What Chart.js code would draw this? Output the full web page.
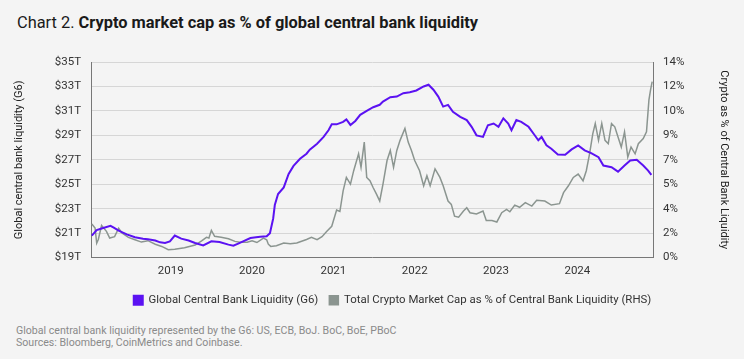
<!DOCTYPE html>
<html>
<head>
<meta charset="utf-8">
<script src="https://cdn.jsdelivr.net/npm/chart.js@4/dist/chart.umd.min.js"></script>
<style>
  html, body { margin: 0; padding: 0; background: #f4f4f4; }
  body { width: 744px; height: 359px; position: relative; overflow: hidden; font-family: Roboto, sans-serif; }
  #title { position: absolute; left: 17px; top: 14px; font-size: 16.4px; line-height: 18px; color: #1a1a1a; white-space: nowrap; }
  #title b { font-weight: 700; }
  #note { position: absolute; left: 16px; top: 325px; font-size: 10.6px; line-height: 12px; color: #8a8a8a; }
  #wrap { position: absolute; left: 0; top: 0; width: 744px; height: 316px; }
</style>
</head>
<body>
<div id="title">Chart 2. <b>Crypto market cap as % of global central bank liquidity</b></div>
<div id="wrap"><canvas id="canvas"></canvas></div>
<div id="note">Global central bank liquidity represented by the G6: US, ECB, BoJ. BoC, BoE, PBoC<br>Sources: Bloomberg, CoinMetrics and Coinbase.</div>
<script>
  'use strict'

  // x values are decimal years
  var liqYears = [2018.03, 2018.09, 2018.16, 2018.26, 2018.30, 2018.36, 2018.46, 2018.56, 2018.66, 2018.72,
    2018.81, 2018.87, 2018.93, 2018.99, 2019.05, 2019.13, 2019.22, 2019.30, 2019.40, 2019.50,
    2019.60, 2019.71, 2019.77, 2019.83, 2019.89, 2019.98, 2020.05, 2020.10, 2020.18, 2020.22,
    2020.26, 2020.28, 2020.32, 2020.39, 2020.45, 2020.51, 2020.59, 2020.67, 2020.71, 2020.80,
    2020.88, 2020.94, 2020.98, 2021.04, 2021.12, 2021.16, 2021.21, 2021.27, 2021.33, 2021.41,
    2021.49, 2021.57, 2021.61, 2021.70, 2021.78, 2021.86, 2021.94, 2022.02, 2022.11, 2022.17,
    2022.23, 2022.29, 2022.35, 2022.41, 2022.47, 2022.56, 2022.64, 2022.70, 2022.76, 2022.84,
    2022.90, 2022.97, 2023.03, 2023.09, 2023.15, 2023.19, 2023.25, 2023.31, 2023.40, 2023.46,
    2023.52, 2023.56, 2023.62, 2023.68, 2023.76, 2023.85, 2023.93, 2024.01, 2024.09, 2024.17,
    2024.26, 2024.32, 2024.42, 2024.50, 2024.58, 2024.65, 2024.73, 2024.81, 2024.87, 2024.91]
  var liqValues = [20.8, 21.25, 21.4, 21.6, 21.45, 21.2, 20.9, 20.66, 20.55, 20.5,
    20.4, 20.25, 20.2, 20.33, 20.8, 20.55, 20.4, 20.2, 20.0, 20.33,
    20.27, 20.06, 19.97, 20.15, 20.33, 20.6, 20.66, 20.7, 20.74, 21.0,
    22.2, 23.3, 24.2, 24.74, 25.84, 26.5, 27.08, 27.5, 27.83, 28.32,
    28.87, 29.42, 29.9, 29.9, 30.1, 30.3, 29.85, 30.18, 30.68, 31.0,
    31.3, 31.5, 31.76, 32.12, 32.17, 32.45, 32.53, 32.67, 33.0, 33.14,
    32.73, 32.17, 31.35, 31.49, 30.93, 30.52, 30.25, 29.7, 29.0, 28.87,
    29.83, 29.97, 29.7, 30.39, 29.97, 29.42, 30.25, 30.1, 29.7, 29.15,
    28.6, 28.87, 28.18, 27.9, 27.44, 27.41, 27.85, 28.18, 27.77, 27.55,
    27.21, 26.53, 26.39, 26.03, 26.53, 26.94, 27.0, 26.53, 26.12, 25.76]

  var cryptoYears = [2018.03, 2018.07, 2018.09, 2018.11, 2018.15, 2018.21, 2018.25, 2018.31, 2018.36, 2018.40,
    2018.48, 2018.56, 2018.64, 2018.72, 2018.81, 2018.89, 2018.97, 2019.05, 2019.17, 2019.30,
    2019.38, 2019.44, 2019.47, 2019.50, 2019.54, 2019.62, 2019.71, 2019.79, 2019.85, 2019.94,
    2020.00, 2020.06, 2020.14, 2020.18, 2020.20, 2020.23, 2020.30, 2020.39, 2020.47, 2020.55,
    2020.67, 2020.73, 2020.80, 2020.86, 2020.92, 2020.98, 2021.04, 2021.08, 2021.12, 2021.16,
    2021.21, 2021.25, 2021.31, 2021.34, 2021.38, 2021.41, 2021.45, 2021.49, 2021.53, 2021.57,
    2021.61, 2021.66, 2021.70, 2021.74, 2021.78, 2021.82, 2021.88, 2021.92, 2021.96, 2022.00,
    2022.06, 2022.11, 2022.15, 2022.19, 2022.25, 2022.31, 2022.35, 2022.41, 2022.45, 2022.49,
    2022.54, 2022.60, 2022.64, 2022.68, 2022.76, 2022.84, 2022.88, 2022.95, 2023.01, 2023.07,
    2023.13, 2023.17, 2023.23, 2023.29, 2023.36, 2023.44, 2023.50, 2023.60, 2023.68, 2023.78,
    2023.83, 2023.89, 2023.95, 2024.01, 2024.07, 2024.11, 2024.15, 2024.19, 2024.22, 2024.26,
    2024.30, 2024.34, 2024.38, 2024.42, 2024.46, 2024.50, 2024.54, 2024.58, 2024.62, 2024.66,
    2024.71, 2024.75, 2024.81, 2024.85, 2024.88, 2024.90, 2024.92]
  var cryptoValues = [2.4, 2.12, 1.04, 1.3, 2.3, 1.88, 1.4, 1.5, 2.1, 1.76,
    1.45, 1.28, 1.11, 1.21, 0.96, 0.8, 0.56, 0.6, 0.7, 0.9,
    1.2, 1.45, 1.4, 1.95, 1.52, 1.45, 1.35, 1.16, 1.1, 1.1,
    1.2, 1.08, 1.4, 1.28, 0.96, 0.8, 0.85, 1.04, 1.0, 1.04,
    1.3, 1.45, 1.28, 1.5, 1.88, 2.24, 3.4, 3.3, 4.78, 5.74,
    5.26, 6.22, 7.43, 6.46, 8.27, 5.74, 5.5, 5.0, 4.54, 4.05,
    5.26, 6.95, 7.67, 6.46, 7.67, 8.39, 9.24, 8.27, 7.67, 6.95,
    6.22, 5.14, 5.86, 5.14, 6.35, 5.74, 5.14, 4.05, 3.81, 2.97,
    2.89, 3.33, 3.57, 3.21, 3.13, 3.33, 2.66, 2.66, 2.55, 3.21,
    3.45, 3.28, 3.76, 3.6, 3.93, 3.69, 4.1, 4.05, 3.76, 3.86,
    4.65, 5.14, 5.74, 5.98, 5.5, 6.22, 7.43, 8.88, 9.6, 8.39,
    9.6, 8.39, 8.15, 9.6, 9.36, 8.63, 7.91, 9.0, 7.19, 7.91,
    7.43, 8.15, 8.52, 9.0, 11.29, 12.0, 12.6]

  var yearTicks = [2019, 2020, 2021, 2022, 2023, 2024]
  var leftTickLabels = ['$19T', '$21T', '$23T', '$25T', '$27T', '$29T', '$31T', '$33T', '$35T']
  var rightTickLabels = ['0%', '2%', '4%', '5%', '7%', '9%', '10%', '12%', '14%']

  function points (xs, ys) {
    return xs.map(function (x, i) { return { x: x, y: ys[i] } })
  }

  // legend sits a little right of centre in the original
  var legendShift = {
    id: 'legendShift',
    afterLayout: function (chart) {
      chart.legend.left += 21
      chart.legend.right += 21
    }
  }

  Chart.defaults.font.family = 'Roboto, sans-serif'
  Chart.defaults.font.size = 11
  Chart.defaults.color = '#333'

  var context = document.getElementById('canvas').getContext('2d')
  new Chart(context, {
    type: 'line',
    data: {
      datasets: [{
        label: 'Global Central Bank Liquidity (G6)',
        data: points(liqYears, liqValues),
        yAxisID: 'y',
        borderColor: '#5b12f2',
        backgroundColor: '#5b12f2',
        borderWidth: 2,
        pointRadius: 0,
        tension: 0,
        order: 1
      }, {
        label: 'Total Crypto Market Cap as % of Central Bank Liquidity (RHS)',
        data: points(cryptoYears, cryptoValues),
        yAxisID: 'y1',
        borderColor: '#8b9590',
        backgroundColor: '#8b9590',
        borderWidth: 1.5,
        pointRadius: 0,
        tension: 0,
        order: 2
      }]
    },
    plugins: [legendShift],
    options: {
      responsive: true,
      maintainAspectRatio: false,
      animation: false,
      layout: { padding: { top: 62, left: 9, right: 10, bottom: 0 } },
      plugins: {
        legend: {
          position: 'bottom',
          labels: { boxWidth: 9, boxHeight: 9, padding: 11, color: '#333', font: { size: 11.4 } }
        },
        tooltip: { enabled: false }
      },
      scales: {
        x: {
          type: 'linear',
          min: 2018.02,
          max: 2024.93,
          afterBuildTicks: function (scale) {
            scale.ticks = yearTicks.map(function (v) { return { value: v } })
          },
          afterFit: function (scale) { scale.height = 26 },
          ticks: {
            padding: 7,
            font: { size: 11.5 },
            callback: function (v) { return String(v) }
          },
          grid: { display: false, drawTicks: false },
          border: { display: true, color: '#777', width: 1 }
        },
        y: {
          position: 'left',
          min: 19,
          max: 35,
          afterFit: function (scale) { scale.width = 82 },
          ticks: {
            stepSize: 2,
            padding: 10,
            font: { size: 11.5 },
            callback: function (v, i) { return leftTickLabels[i] }
          },
          grid: { color: '#d6d6d6', drawTicks: false },
          border: { display: true, color: '#777', width: 1 },
          title: {
            display: true,
            text: 'Global central bank liquidity (G6)',
            color: '#222',
            font: { size: 11 },
            padding: { top: 4, bottom: 4 }
          }
        },
        y1: {
          position: 'right',
          min: 0,
          max: 14,
          afterBuildTicks: function (scale) {
            scale.ticks = rightTickLabels.map(function (_, i) { return { value: i * 1.75 } })
          },
          afterFit: function (scale) { scale.width = 81 },
          ticks: {
            padding: 10,
            font: { size: 11.5 },
            callback: function (v, i) { return rightTickLabels[i] }
          },
          grid: { display: false, drawTicks: false },
          border: { display: true, color: '#777', width: 1 },
          title: {
            display: true,
            text: 'Crypto as % of Central Bank Liquidity',
            color: '#222',
            font: { size: 11 },
            padding: { top: 4, bottom: 4 }
          }
        }
      }
    }
  })
</script>
</body>
</html>
